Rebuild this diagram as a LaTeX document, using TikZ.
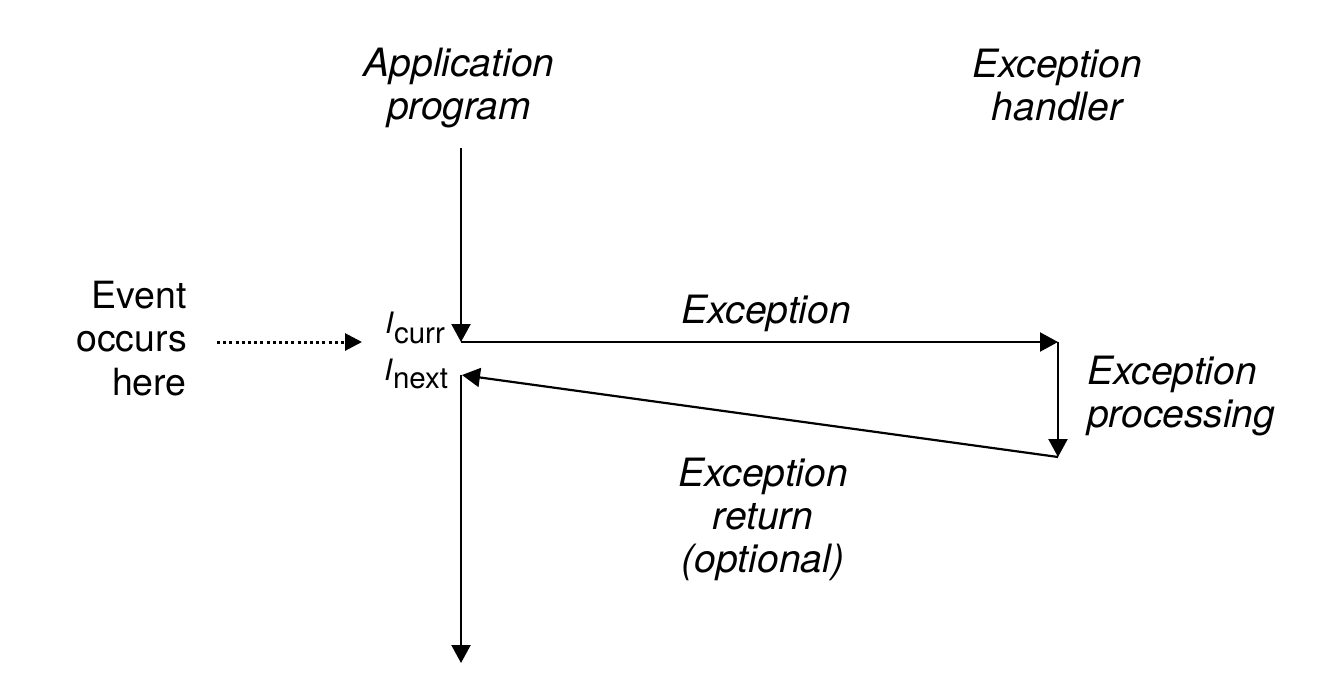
\documentclass[tikz,border=0pt]{standalone}
\usepackage{fontspec}
\setmainfont{TeX Gyre Heros}
\usetikzlibrary{arrows.meta}
\tikzset{
  lbl/.style={inner sep=0pt, font=\fontsize{39}{43}\selectfont\itshape},
  rlbl/.style={inner sep=0pt, font=\fontsize{37.5}{43.5}\selectfont},
  ilbl/.style={inner sep=0pt, font=\fontsize{29.5}{30}\selectfont, anchor=base west},
  flow/.style={line width=2.2pt, -{Triangle[length=18pt,width=19pt]}},
  evflow/.style={line width=3pt, dash pattern=on 3pt off 3.2pt, -{Triangle[length=17pt,width=17pt]}}
}
\begin{document}
\begin{tikzpicture}[x=1pt,y=-1pt]
\useasboundingbox[fill=white] (0,0) rectangle (1326,694);
% coordinates
\coordinate (top) at (461,148);
\coordinate (curr) at (461,342);
\coordinate (next) at (461,375);
\coordinate (ret) at (462,375);
\coordinate (hs) at (1058,342);
\coordinate (he) at (1058,457);
\coordinate (bot) at (461,663);
\coordinate (evs) at (217,342);
\coordinate (eve) at (362,342);
% labels (base anchor = baseline of the last line)
\node[lbl, align=center, anchor=base] (app) at (459,119) {Application\\program};
\node[lbl, align=center, anchor=base] (hdl) at (1057,120) {Exception\\handler};
\node[rlbl, align=right, anchor=base east] (ev) at (187,395) {Event\\occurs\\here};
\node[lbl, anchor=base] (exc) at (766,323) {Exception};
\node[lbl, align=left, anchor=base west] (proc) at (1087,427) {Exception\\processing};
\node[lbl, align=center, anchor=base] (retl) at (763,572) {Exception\\return\\(optional)};
\node[ilbl] (icurr) at (385,333) {\textit{I}\raisebox{-10pt}{curr}};
\node[ilbl] (inext) at (384,380) {\textit{I}\raisebox{-8pt}{next}};
% connectors
\draw[flow] (top) -- (curr);
\draw[flow] (curr) -- (hs);
\draw[flow] (hs) -- (he);
\draw[flow] (he) -- (ret);
\draw[flow] (next) -- (bot);
\draw[evflow] (evs) -- (eve);
\end{tikzpicture}
\end{document}
